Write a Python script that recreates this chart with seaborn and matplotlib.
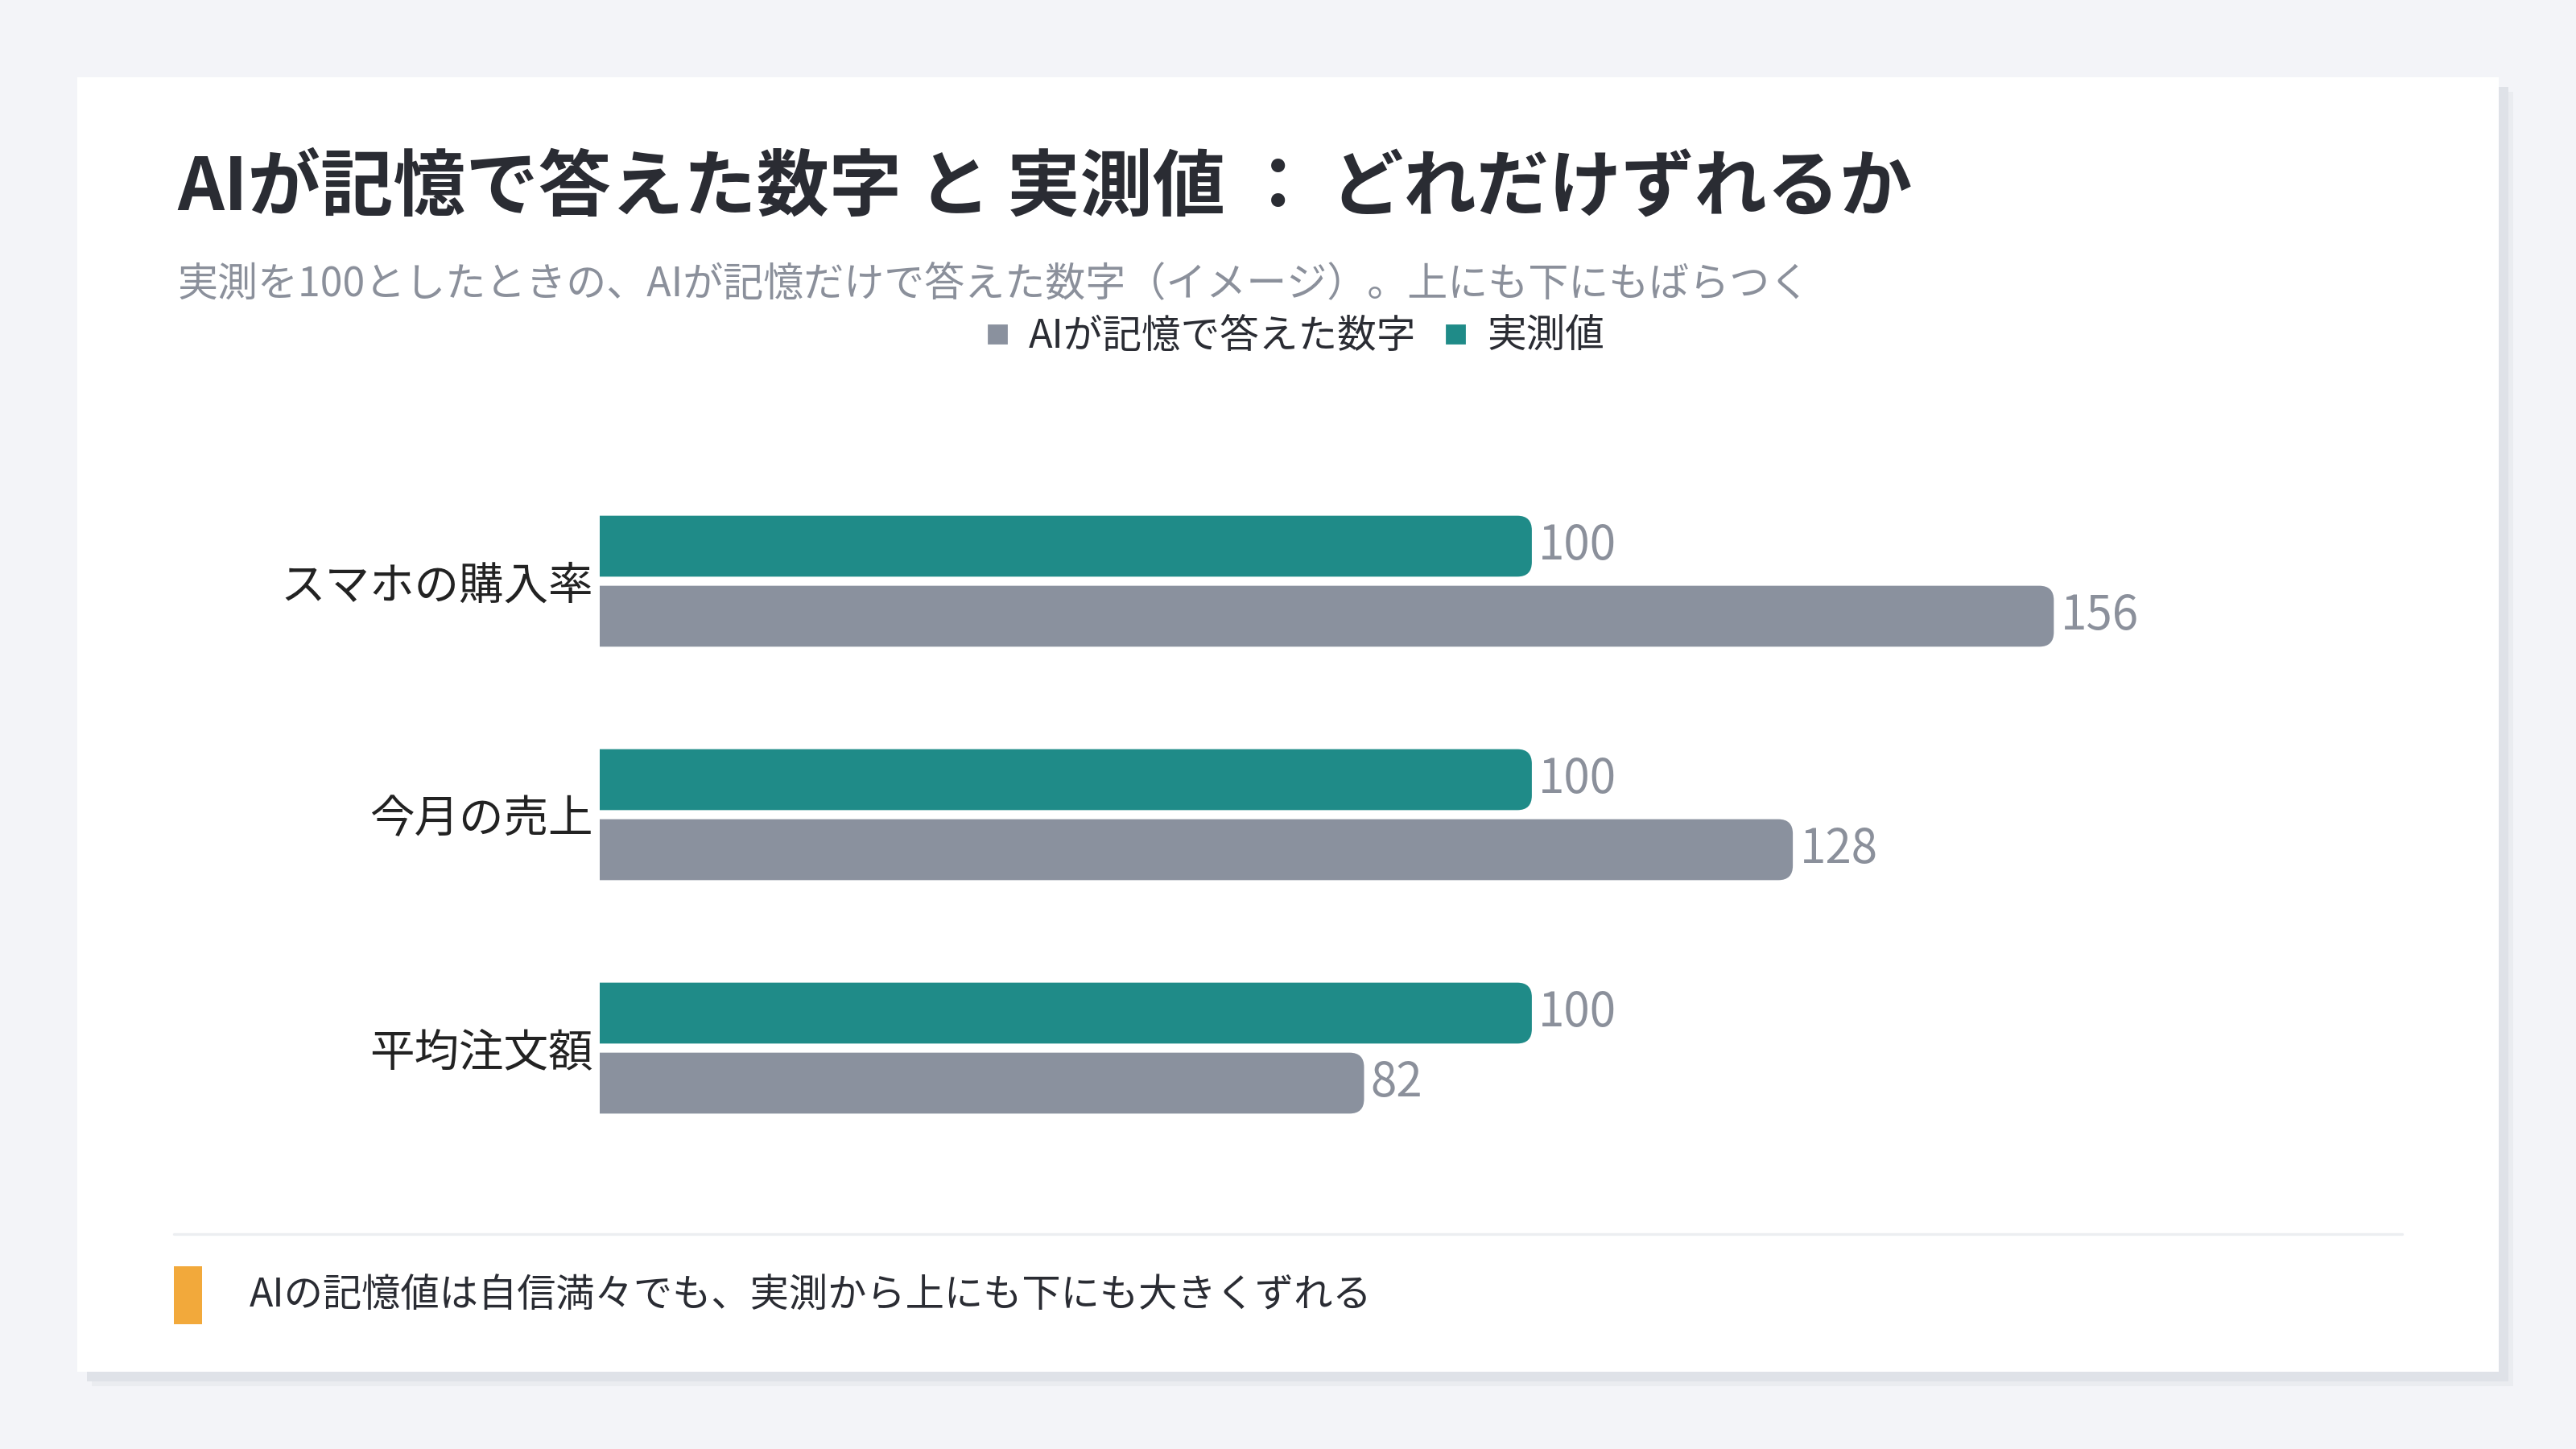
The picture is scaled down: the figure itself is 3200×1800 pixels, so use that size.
import matplotlib
matplotlib.use("Agg")
import matplotlib.pyplot as plt
from matplotlib.patches import Rectangle, FancyBboxPatch
from matplotlib.lines import Line2D
import seaborn as sns
import pandas as pd

# データ
categories = ["スマホの購入率", "今月の売上", "平均注文額"]
ai_values = [156, 128, 82]
actual_values = [100, 100, 100]
series_ai = "AIが記憶で答えた数字"
series_actual = "実測値"

title = "AIが記憶で答えた数字 と 実測値 ： どれだけずれるか"
subtitle = "実測を100としたときの、AIが記憶だけで答えた数字（イメージ）。上にも下にもばらつく"
note = "AIの記憶値は自信満々でも、実測から上にも下にも大きくずれる"

TEAL = "#1f8b88"
GRAY = "#8a919e"
DARK = "#2a2c33"
MUTED = "#8b909b"

df = pd.DataFrame({
    "category": categories * 2,
    "series": [series_actual] * len(categories) + [series_ai] * len(categories),
    "value": actual_values + ai_values,
})

sns.set_theme(style="white")
plt.rcParams["font.family"] = ["Noto Sans CJK JP", "DejaVu Sans"]

W, H = 3200, 1800
fig = plt.figure(figsize=(16, 9), dpi=200)
fig.patch.set_facecolor("#f3f4f8")

# カードと影
for d, col in [(18, "#eaecf0"), (12, "#dfe2e8"), (0, "white")]:
    fig.add_artist(Rectangle(((96 + d) / W, 1 - (1704 + d) / H), 3008 / W, 1608 / H,
                             transform=fig.transFigure, facecolor=col,
                             edgecolor="none", zorder=0))

# タイトル
fig.text(220 / W, 1 - 234 / H, title, fontsize=32.5, fontweight="bold",
         va="center", ha="left", color=DARK)
fig.text(220 / W, 1 - 353 / H, subtitle, fontsize=18, va="center",
         ha="left", color=MUTED)

# 棒グラフ
ax_l, ax_t, ax_w, ax_h = 745, 577, 2200, 870
xmax = 190
ax = fig.add_axes([ax_l / W, 1 - (ax_t + ax_h) / H, ax_w / W, ax_h / H])
ax.set_facecolor("none")
sns.barplot(data=df, y="category", x="value", hue="series",
            hue_order=[series_actual, series_ai], palette=[TEAL, GRAY],
            orient="h", width=0.6, gap=0.13, saturation=1, legend=False, ax=ax)
ax.set_xlim(0, xmax)
ax.set_ylim(len(categories) - 0.5, -0.5)

for cont in ax.containers:
    ax.bar_label(cont, fmt="%d", padding=3, fontsize=21, color=MUTED)

# 右端を角丸に
px_x = ax_w / xmax
px_y = ax_h / len(categories)
aspect = px_x / px_y
r = 18 / px_x
for p in list(ax.patches):
    x, y, w, h = p.get_x(), p.get_y(), p.get_width(), p.get_height()
    fc = p.get_facecolor()
    p.remove()
    ax.add_patch(FancyBboxPatch((x - 3 * r, y), w + 3 * r, h,
                                boxstyle=f"round,pad=0,rounding_size={r}",
                                mutation_aspect=aspect, facecolor=fc,
                                edgecolor="none"))

ax.set_xticks([])
ax.set_xlabel("")
ax.set_ylabel("")
ax.tick_params(axis="y", length=0, pad=3, labelsize=20, labelcolor="#222222")
sns.despine(ax=ax, left=True, bottom=True)

# 凡例
handles = [Line2D([], [], marker="s", ls="", color=GRAY, markersize=8),
           Line2D([], [], marker="s", ls="", color=TEAL, markersize=8)]
fig.legend(handles, [series_ai, series_actual], loc="center",
           bbox_to_anchor=(0.502, 1 - 418 / H), ncol=2, frameon=False,
           fontsize=17.5, handlelength=0.8, handletextpad=0.4,
           columnspacing=0.6, labelcolor=DARK)

# フッター
fig.add_artist(Line2D([216 / W, 2984 / W], [1 - 1533 / H] * 2,
                      color="#eceef1", lw=1.2))
fig.add_artist(Rectangle((216 / W, 1 - 1645 / H), 35 / W, 72 / H,
                         transform=fig.transFigure, facecolor="#f2a93b",
                         edgecolor="none"))
fig.text(310 / W, 1 - 1610 / H, note, fontsize=17.4, va="center", ha="left",
         color=DARK)

fig.savefig("out.png", dpi=200, facecolor=fig.get_facecolor())
